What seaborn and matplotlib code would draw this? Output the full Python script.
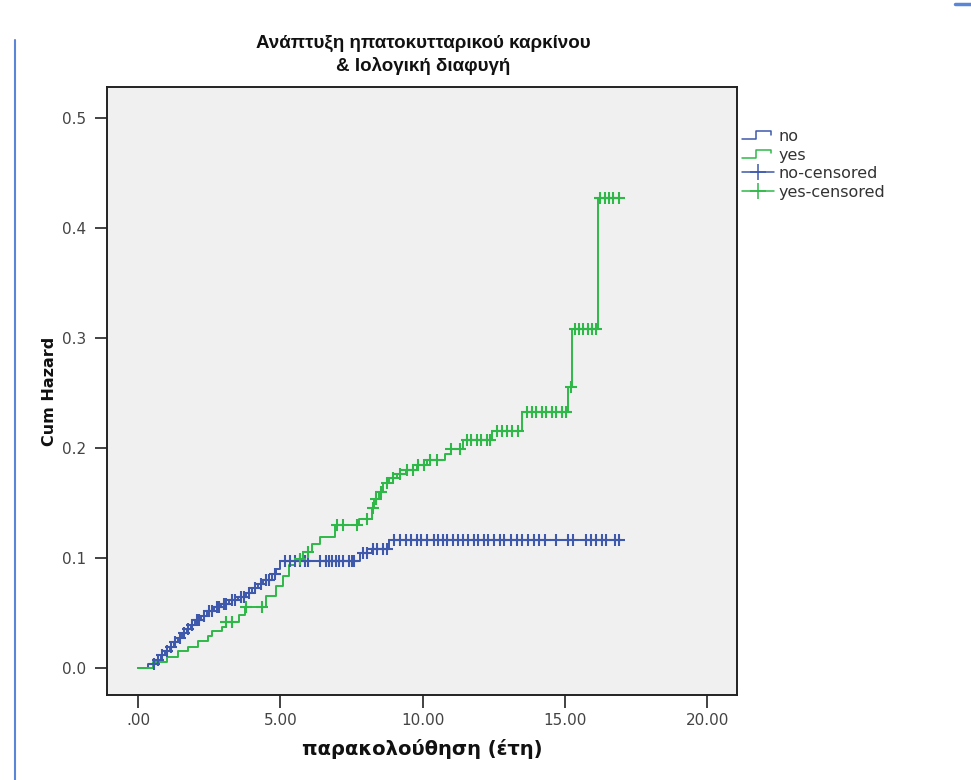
import numpy as np
import pandas as pd
import matplotlib
matplotlib.use("Agg")
import matplotlib.pyplot as plt
from matplotlib.lines import Line2D
from matplotlib.legend_handler import HandlerBase
from matplotlib.ticker import FixedLocator, FuncFormatter
import seaborn as sns

# ---- Cumulative hazard estimates (event times in years, cum hazard) ----
no_times = [0.0, 0.35, 0.6, 0.8, 0.95, 1.1, 1.25, 1.4, 1.55, 1.7, 1.85, 2.0, 2.2,
            2.4, 2.65, 2.9, 3.2, 3.5, 3.8, 4.0, 4.2, 4.4, 4.7, 4.85, 5.0, 7.8,
            8.2, 8.8]
no_hazard = [0.0, 0.003, 0.007, 0.011, 0.015, 0.019, 0.023, 0.027, 0.031, 0.035,
             0.039, 0.043, 0.047, 0.051, 0.055, 0.058, 0.061, 0.064, 0.068,
             0.072, 0.076, 0.080, 0.085, 0.090, 0.097, 0.104, 0.108, 0.116]
no_censored = [0.55, 0.7, 0.85, 1.0, 1.15, 1.3, 1.45, 1.6, 1.75, 1.9, 2.05, 2.15,
               2.3, 2.5, 2.6, 2.75, 2.85, 3.0, 3.1, 3.3, 3.4, 3.6, 3.7, 3.9, 4.1,
               4.3, 4.5, 4.6, 4.8, 5.16, 5.33, 5.5, 5.68, 5.86, 5.96, 6.4, 6.6,
               6.7, 6.8, 6.95, 7.05, 7.2, 7.4, 7.5, 7.6, 7.9, 8.05, 8.25, 8.4,
               8.6, 8.75, 9.0, 9.2, 9.4, 9.6, 9.8, 9.95, 10.15, 10.4, 10.55,
               10.7, 10.85, 11.05, 11.25, 11.4, 11.6, 11.8, 11.95, 12.15, 12.3,
               12.5, 12.7, 12.85, 13.1, 13.3, 13.5, 13.7, 13.9, 14.1, 14.3,
               14.7, 15.1, 15.3, 15.75, 15.9, 16.1, 16.3, 16.45, 16.75, 16.9]

yes_times = [0.0, 0.5, 1.0, 1.4, 1.75, 2.1, 2.45, 2.6, 2.95, 3.1, 3.55, 3.75, 4.5,
             4.85, 5.1, 5.3, 5.5, 5.8, 6.1, 6.4, 6.9, 7.75, 8.2, 8.3, 8.45, 8.6,
             8.8, 9.1, 9.4, 9.8, 10.15, 10.8, 11.0, 11.4, 12.45, 13.5, 15.1,
             15.25, 16.15]
yes_hazard = [0.0, 0.005, 0.010, 0.015, 0.019, 0.024, 0.029, 0.033, 0.037, 0.041,
              0.048, 0.055, 0.065, 0.074, 0.083, 0.093, 0.099, 0.105, 0.112,
              0.119, 0.130, 0.135, 0.145, 0.153, 0.160, 0.168, 0.172, 0.176,
              0.180, 0.184, 0.189, 0.194, 0.199, 0.207, 0.215, 0.232, 0.255,
              0.308, 0.427]
yes_censored = [3.1, 3.3, 3.8, 4.35, 5.7, 5.95, 7.0, 7.2, 7.7, 8.05, 8.25, 8.35,
                8.55, 8.75, 8.95, 9.2, 9.45, 9.65, 9.85, 10.05, 10.25, 10.5,
                11.0, 11.3, 11.55, 11.7, 11.9, 12.05, 12.25, 12.35, 12.6, 12.8,
                12.95, 13.15, 13.35, 13.65, 13.85, 14.0, 14.2, 14.35, 14.55,
                14.7, 14.9, 15.05, 15.2, 15.35, 15.5, 15.65, 15.8, 15.95, 16.1,
                16.25, 16.4, 16.55, 16.7, 16.9]

x_ticks = [0, 5, 10, 15, 20]
y_ticks = [0.0, 0.1, 0.2, 0.3, 0.4, 0.5]

BLUE = "#3E58AC"
GREEN = "#2EB848"

sns.set_theme(style="white")
plt.rcParams["font.family"] = ["DejaVu Sans"]

fig = plt.figure(figsize=(9.71, 7.8), dpi=100)
fig.patch.set_facecolor("white")
ax = fig.add_axes([107 / 971, 1 - 695 / 780, (737 - 107) / 971, (695 - 87) / 780])
ax.set_facecolor("#f0f0f0")


def curve_frame(times, hazard, censored):
    end = max(censored)
    return pd.DataFrame({"t": list(times) + [end],
                         "H": list(hazard) + [hazard[-1]]})


def censor_frame(times, hazard, censored):
    t = np.asarray(times)
    h = np.asarray(hazard)
    c = np.asarray(censored)
    idx = np.searchsorted(t, c, side="right") - 1
    return pd.DataFrame({"t": c, "H": h[idx]})


for times, hazard, cens, col in [(no_times, no_hazard, no_censored, BLUE),
                                 (yes_times, yes_hazard, yes_censored, GREEN)]:
    cf = curve_frame(times, hazard, cens)
    sns.lineplot(data=cf, x="t", y="H", ax=ax, color=col, linewidth=1.4,
                 drawstyle="steps-post", estimator=None, sort=False)
    pf = censor_frame(times, hazard, cens)
    sns.scatterplot(data=pf, x="t", y="H", ax=ax, color=col, marker="+",
                    s=70, linewidth=1.5, zorder=4)

ax.set_xlim(-1.1, 21.05)
ax.set_ylim(-0.025, 0.528)
ax.xaxis.set_major_locator(FixedLocator(x_ticks))
ax.yaxis.set_major_locator(FixedLocator(y_ticks))


def fmt_x(v, pos):
    s = f"{v:.2f}"
    return s[1:] if s.startswith("0") else s


ax.xaxis.set_major_formatter(FuncFormatter(fmt_x))
ax.yaxis.set_major_formatter(FuncFormatter(lambda v, p: f"{v:.1f}"))
ax.tick_params(axis="both", which="major", direction="out", length=9, width=1.2,
               color="#222222", labelsize=11, labelcolor="#444444",
               bottom=True, left=True)
ax.tick_params(axis="x", pad=4)
ax.tick_params(axis="y", pad=6)
for sp in ax.spines.values():
    sp.set_visible(True)
    sp.set_color("#222222")
    sp.set_linewidth(1.4)

ax.set_xlabel("παρακολούθηση (έτη)", fontsize=14, fontweight="bold", color="#111111")
ax.set_ylabel("Cum Hazard", fontsize=11.5, fontweight="bold", color="#111111")
ax.xaxis.set_label_coords(0.5, -0.072)
ax.yaxis.set_label_coords(-0.079, 0.5)

fig.text(423 / 971, 1 - 55 / 780,
         "Ανάπτυξη ηπατοκυτταρικού καρκίνου\n& Ιολογική διαφυγή",
         ha="center", va="center", fontsize=13.5, fontweight="bold",
         family=["Liberation Sans", "DejaVu Sans"], linespacing=1.3,
         color="#111111")


class StepHandler(HandlerBase):
    def create_artists(self, legend, orig_handle, xdescent, ydescent, width,
                       height, fontsize, trans):
        w, h = width, height
        xs = [-xdescent, -xdescent + 0.45 * w, -xdescent + 0.45 * w,
              -xdescent + 0.92 * w, -xdescent + 0.92 * w]
        ys = [-ydescent + 0.15 * h, -ydescent + 0.15 * h, -ydescent + 0.85 * h,
              -ydescent + 0.85 * h, -ydescent + 0.55 * h]
        ln = Line2D(xs, ys, color=orig_handle.get_color(), linewidth=1.1,
                    transform=trans)
        return [ln]


class CensorHandler(HandlerBase):
    def create_artists(self, legend, orig_handle, xdescent, ydescent, width,
                       height, fontsize, trans):
        y = -ydescent + 0.5 * height
        ln = Line2D([-xdescent, -xdescent + width], [y, y],
                    color=orig_handle.get_color(), linewidth=1.1, transform=trans)
        mk = Line2D([-xdescent + 0.5 * width], [y], color=orig_handle.get_color(),
                    marker="+", markersize=11, markeredgewidth=1.1,
                    linestyle="none", transform=trans)
        return [ln, mk]


h_no = Line2D([], [], color=BLUE)
h_yes = Line2D([], [], color=GREEN)
h_nc = Line2D([], [], color=BLUE, marker="+")
h_yc = Line2D([], [], color=GREEN, marker="+")
leg = fig.legend([h_no, h_yes, h_nc, h_yc],
                 ["no", "yes", "no-censored", "yes-censored"],
                 handler_map={h_no: StepHandler(), h_yes: StepHandler(),
                              h_nc: CensorHandler(), h_yc: CensorHandler()},
                 loc="upper left", bbox_to_anchor=(742 / 971, 1 - 129 / 780),
                 frameon=False, fontsize=11.5, handlelength=2.0,
                 handletextpad=0.3, labelspacing=0.22, borderpad=0.0,
                 borderaxespad=0.0)
for t in leg.get_texts():
    t.set_color("#333333")

# page margin rule on the left edge and small mark at top right
fig.add_artist(Line2D([15 / 971, 15 / 971], [0, 1 - 40 / 780], color="#5b86d8",
                      linewidth=1.5, transform=fig.transFigure))
fig.add_artist(Line2D([955 / 971, 1.0], [1 - 4 / 780, 1 - 4 / 780],
                      color="#5b86d8", linewidth=2.5, transform=fig.transFigure))

fig.savefig("out.png", dpi=100, facecolor="white")
